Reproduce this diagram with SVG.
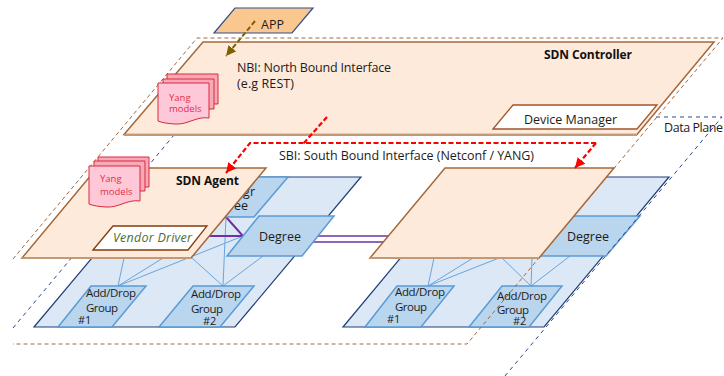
<svg xmlns="http://www.w3.org/2000/svg" width="724" height="376" viewBox="0 0 724 376">
<defs>
<marker id="ar" markerUnits="userSpaceOnUse" markerWidth="12" markerHeight="12" refX="10" refY="5" orient="auto"><path d="M0 0L10 5L0 10Z" fill="#ff0000"/></marker>
<marker id="ao" markerUnits="userSpaceOnUse" markerWidth="12" markerHeight="12" refX="10" refY="5" orient="auto"><path d="M0 0L10 5L0 10Z" fill="#7f6000"/></marker>
<path id="page" d="M0 0H51V35C38 33 30 42 17 41C10 40.500 5 40 0 38Z"/>
<path id="sheet" d="M0 0H51V30H0Z"/>
</defs>
<style>
text{font-family:"Open Sans","Liberation Sans",sans-serif;fill:#1c1c1c;font-size:12.500px}
.b{font-weight:700;fill:#111;font-size:12px}
.sdn{fill:#fdeada;stroke:#a5683a;stroke-width:1.500}
.edge{stroke:#c39a78;stroke-width:2;fill:none}
.plane{fill:#dce8f5;stroke:#1f3f78;stroke-width:1.200}
.blue{fill:#bad5ee;stroke:#5b9bd5;stroke-width:1.500}
.wh{fill:#fff;stroke:#a0562a;stroke-width:1.300}
.dbr{fill:none;stroke:#a5683a;stroke-width:1;stroke-dasharray:4 3}
.dbl{fill:none;stroke:#2f4a8a;stroke-width:1;stroke-dasharray:4 4}
.ln{stroke:#6aa5dc;stroke-width:1;fill:none}
.pu{stroke:#7030a0;stroke-width:2;fill:none}
.pk{fill:#ffc8d8;stroke:#d62a3c;stroke-width:1}
.pkb{fill:#f9a8b8;stroke:#d62a3c;stroke-width:1}
.pkt{fill:#e0304a;font-size:9.500px}
.red{stroke:#ff0000;stroke-width:2.200;fill:none;stroke-dasharray:5 2.500}
.ol{stroke:#7f6000;stroke-width:2;fill:none;stroke-dasharray:5 2.500}
.ad{font-size:11.500px}
.num{font-size:11px}
</style>
<g id="left-plane"><path class="plane" d="M34 327L160 177H361L235 327Z"/></g>
<g id="right-plane"><path class="plane" d="M343 327L468 177H669L544 327Z"/></g>
<g id="connectors">
<path class="ln" d="M124 258L118 286M163 258L118 286M243 236L118 286M192 258L223 286M226 217L223 286M263 256L223 286"/>
<path class="ln" d="M434 258L428 286M473 258L428 286M499 258L428 286M502 258L531 286M532 258L531 286M570 256L531 286"/>
<path class="pu" d="M208 236H243L226 217"/>
<path class="pu" d="M309 236H389M303 242H389" style="stroke-width:1.500"/>
</g>
<g id="left-degree-upper"><path class="blue" d="M179 217L213 177H288L254 217Z"/><text text-anchor="end"><tspan x="255" y="196">Degr</tspan><tspan x="248" y="210">ee</tspan></text></g>
<g id="left-degree"><path class="blue" d="M227 256L259 216H334L302 256Z"/><text x="259" y="241" textLength="42">Degree</text></g>
<g id="right-degree"><path class="blue" d="M532 256L564 216H640L606 256Z"/><text x="567" y="241" textLength="42">Degree</text></g>
<g id="add-drop-1"><path class="blue" d="M58 327L91 286H146L112 327Z"/><text class="ad"><tspan x="86" y="297" textLength="50">Add/Drop</tspan><tspan x="86" y="312" textLength="32">Group</tspan><tspan class="num" x="78" y="324">#1</tspan></text></g>
<g id="add-drop-2"><path class="blue" d="M159 327L193 286H254L220 327Z"/><text class="ad"><tspan x="191" y="298" textLength="50">Add/Drop</tspan><tspan x="191" y="313" textLength="32">Group</tspan><tspan class="num" x="203" y="325">#2</tspan></text></g>
<g id="add-drop-3"><path class="blue" d="M365 327L397 286H454L421 327Z"/><text class="ad"><tspan x="395" y="296" textLength="50">Add/Drop</tspan><tspan x="395" y="311" textLength="32">Group</tspan><tspan class="num" x="387" y="323">#1</tspan></text></g>
<g id="add-drop-4"><path class="blue" d="M469 327L502 286H562L529 327Z"/><text class="ad"><tspan x="497" y="300" textLength="50">Add/Drop</tspan><tspan x="497" y="314" textLength="32">Group</tspan><tspan class="num" x="513" y="325">#2</tspan></text></g>
<g id="data-plane"><path class="dbl" d="M13 328L174 135M656 117H722L505 376"/></g>
<g id="domain-boundary"><path class="dbr" d="M13 259L197 38H723L467 344H13"/></g>
<text x="664" y="132" textLength="59">Data Plane</text>
<g id="sdn-controller"><path class="sdn" d="M124 134.500L203 42H714L637 134.500Z"/><path class="edge" d="M124 135H637"/><text class="b" x="544" y="59" textLength="88">SDN Controller</text>
<path class="wh" d="M493 129L513 105H657L637 129Z"/><text x="524" y="124" textLength="93">Device Manager</text></g>
<g id="sdn-agent-left"><path class="sdn" d="M22 258L97 168H266L191 258Z"/><path class="edge" d="M22 258H191"/><text class="b" x="176" y="185" textLength="63">SDN Agent</text>
<path class="wh" style="stroke:#843c0c" d="M93 250L113 226H207L188 250Z"/><text x="113" y="242" textLength="79" style="font-style:italic;fill:#4f6b35">Vendor Driver</text></g>
<g id="sdn-agent-right"><path class="sdn" d="M370 258L445 168H614L539 258Z"/><path class="edge" d="M370 258H539"/></g>
<g id="app"><path d="M214 33L235 8H313L292 33Z" fill="#fac78f" stroke="#2f4f8f" stroke-width="1.200"/><text x="261" y="29" textLength="23">APP</text></g>
<g id="yang-upper"><use href="#sheet" class="pkb" x="167" y="74"/><use href="#sheet" class="pkb" x="163" y="79"/><use href="#page" class="pk" x="158" y="83"/><text class="pkt"><tspan x="169" y="101">Yang</tspan><tspan x="169" y="112">models</tspan></text></g>
<g id="yang-lower"><use href="#sheet" class="pkb" x="98" y="157"/><use href="#sheet" class="pkb" x="94" y="161"/><use href="#page" class="pk" x="89" y="166"/><text class="pkt"><tspan x="100" y="182">Yang</tspan><tspan x="100" y="195">models</tspan></text></g>
<g id="interface-connectors">
<path class="ol" d="M255 21L226 56" marker-end="url(#ao)"/>
<path class="red" d="M327 117L303 144"/>
<path class="red" d="M596 143H250L226 173" marker-end="url(#ar)"/>
<path class="red" d="M596 143L575 168" marker-end="url(#ar)"/>
</g>
<text x="237" y="72" textLength="154">NBI: North Bound Interface</text>
<text x="237" y="88" textLength="57">(e.g REST)</text>
<text x="279" y="160" textLength="255">SBI: South Bound Interface (Netconf / YANG)</text>
</svg>
